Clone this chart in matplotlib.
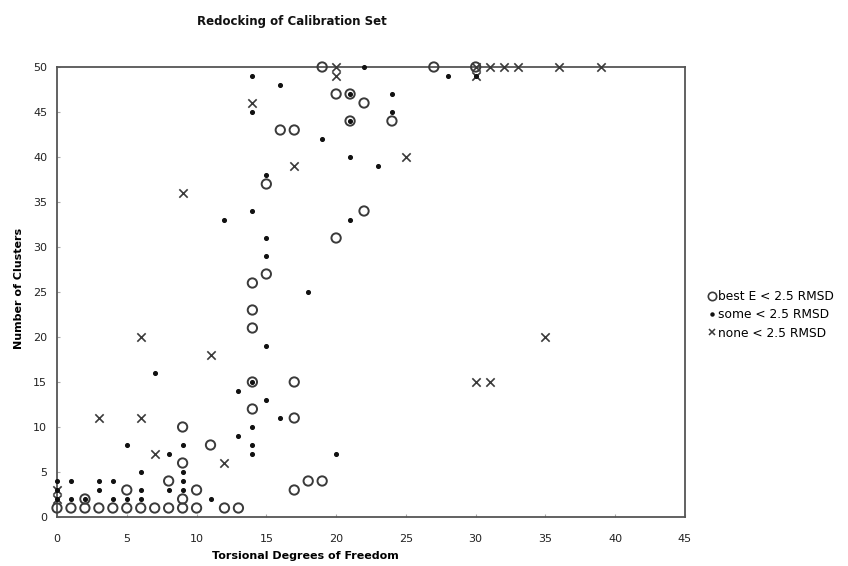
import matplotlib
matplotlib.use("Agg")
import matplotlib.pyplot as plt
from matplotlib.lines import Line2D

# best E < 2.5 RMSD (open circles)
best_x = [0, 1, 2, 2, 3, 4, 5, 5, 6, 7, 8, 8, 9, 9, 9, 9, 10, 10, 11, 12, 13,
          14, 14, 14, 14, 14, 15, 15, 16, 17, 17, 17, 17, 18, 19, 19, 20, 20,
          21, 21, 22, 22, 24, 27, 30]
best_y = [1, 1, 1, 2, 1, 1, 1, 3, 1, 1, 1, 4, 1, 2, 6, 10, 1, 3, 8, 1, 1,
          12, 15, 21, 23, 26, 27, 37, 43, 43, 15, 11, 3, 4, 4, 50, 47, 31,
          47, 44, 46, 34, 44, 50, 50]

# some < 2.5 RMSD (small dots)
some_x = [0, 0, 0, 1, 1, 2, 3, 3, 4, 4, 5, 5, 6, 6, 6, 7, 8, 8, 9, 9, 9, 9,
          11, 12, 13, 13, 14, 14, 14, 14, 14, 14, 14, 15, 15, 15, 15, 15, 16,
          16, 18, 19, 20, 21, 21, 21, 21, 22, 23, 24, 24, 28, 30]
some_y = [4, 3, 2, 4, 2, 2, 4, 3, 4, 2, 2, 8, 5, 3, 2, 16, 7, 3, 3, 4, 5, 8,
          2, 33, 14, 9, 49, 45, 34, 10, 8, 7, 15, 38, 31, 29, 19, 13, 48,
          11, 25, 42, 7, 47, 44, 40, 33, 50, 39, 47, 45, 49, 49]

# none < 2.5 RMSD (crosses)
none_x = [0, 0, 3, 6, 6, 7, 9, 11, 12, 14, 17, 20, 20, 25, 30, 30, 31, 32,
          33, 36, 39, 30, 31, 35]
none_y = [2, 3, 11, 11, 20, 7, 36, 18, 6, 46, 39, 50, 49, 40, 50, 49, 50, 50,
          50, 50, 50, 15, 15, 20]

x_ticks = [0, 5, 10, 15, 20, 25, 30, 35, 40, 45]
y_ticks = [0, 5, 10, 15, 20, 25, 30, 35, 40, 45, 50]

plt.rcParams['font.family'] = ['DejaVu Sans']
fig = plt.figure(figsize=(8.48, 5.66), dpi=100)
ax = fig.add_axes([57/848, 1-517/566, (685-57)/848, (517-67)/566])

mc = '#3a3a3a'
ax.scatter(best_x, best_y, s=45, facecolors='none', edgecolors=mc,
           linewidths=1.4, zorder=3, clip_on=False)
ax.scatter(some_x, some_y, s=7, color='#111111', zorder=4, clip_on=False)
ax.scatter(none_x, none_y, s=36, marker='x', color=mc, linewidths=1.2,
           zorder=3, clip_on=False)

ax.set_xlim(0, 45)
ax.set_ylim(0, 50)
ax.set_xticks(x_ticks)
ax.set_yticks(y_ticks)
ax.tick_params(direction='in', length=2, color='#aaaaaa', labelsize=8,
               labelcolor='#222222')
ax.tick_params(axis='x', pad=12)
ax.tick_params(axis='y', pad=7)
for s in ax.spines.values():
    s.set_color('#555555')
    s.set_linewidth(1.3)

ax.set_xlabel('Torsional Degrees of Freedom', fontsize=8, fontweight='bold')
ax.xaxis.set_label_coords((305-57)/628, -(551-517)/450)
ax.set_ylabel('Number of Clusters', fontsize=8, fontweight='bold')
ax.yaxis.set_label_coords(-(57-24)/628, (517-288)/450)
fig.text(292/848, 1-22/566, 'Redocking of Calibration Set', fontsize=8.5,
         fontweight='bold', ha='center', va='center', color='#111111')

handles = [
    Line2D([], [], linestyle='none', marker='o', markersize=6,
           markerfacecolor='none', markeredgecolor=mc, markeredgewidth=1.2),
    Line2D([], [], linestyle='none', marker='o', markersize=2.2,
           color='#111111'),
    Line2D([], [], linestyle='none', marker='x', markersize=5,
           color=mc, markeredgewidth=1.1),
]
labels = ['best E < 2.5 RMSD', 'some < 2.5 RMSD', 'none < 2.5 RMSD']
fig.legend(handles, labels, loc='center left',
           bbox_to_anchor=(703/848, 1-315/566), frameon=False, fontsize=8.8,
           handlelength=0.6, handletextpad=0.25, labelspacing=0.42,
           borderaxespad=0)

fig.savefig('out.png', dpi=100)
